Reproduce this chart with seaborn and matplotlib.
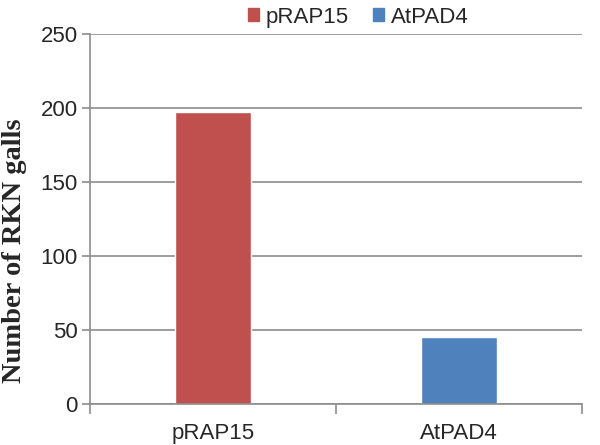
import matplotlib
matplotlib.use("Agg")
import matplotlib.pyplot as plt
import matplotlib.patches as mpatches
from matplotlib.ticker import FixedLocator, MultipleLocator
import seaborn as sns
import pandas as pd

categories = ["pRAP15", "AtPAD4"]
values = [197, 45.5]
colors = ["#C0504D", "#4F81BD"]
ylabel = "Number of RKN galls"

sns.set_style("white")
plt.rcParams["font.family"] = ["Liberation Sans", "DejaVu Sans"]

df = pd.DataFrame({"construct": categories, "galls": values})

fig = plt.figure(figsize=(6.0, 4.45), dpi=100)
ax = fig.add_axes([0.15, 0.0921, 0.82, 0.8326])

sns.barplot(data=df, x="construct", y="galls", hue="construct",
            palette=colors, width=0.31, saturation=1, legend=False, ax=ax)

ax.set_xlim(-0.5, 1.5)
ax.set_ylim(0, 250)
ax.yaxis.set_major_locator(MultipleLocator(50))
ax.grid(axis="y", color="#8c8c8c", linewidth=1.2)
ax.set_axisbelow(True)

for s in ["top", "right"]:
    ax.spines[s].set_visible(False)
for s in ["left", "bottom"]:
    ax.spines[s].set_color("#8c8c8c")
    ax.spines[s].set_linewidth(1.2)

# x ticks: marks at category boundaries, labels at centres
ax.xaxis.set_major_locator(FixedLocator([-0.5, 0.5, 1.5]))
ax.xaxis.set_minor_locator(FixedLocator([0, 1]))
ax.set_xticklabels([])
ax.set_xticklabels(categories, minor=True)
ax.tick_params(axis="x", which="major", direction="out", length=7,
               width=1.2, color="#8c8c8c", bottom=True)
ax.tick_params(axis="x", which="minor", length=0, pad=13.5, labelsize=16)
ax.tick_params(axis="y", direction="out", length=6, width=1.2,
               color="#8c8c8c", left=True, labelsize=16, pad=3)

ax.set_xlabel("")
ax.set_ylabel(ylabel, family=["Liberation Serif", "DejaVu Serif"],
              fontweight="bold", fontsize=20.5)
ax.yaxis.set_label_coords(-0.128, 0.415)

handles = [mpatches.Patch(color=c, label=l) for c, l in zip(colors, categories)]
fig.legend(handles=handles, loc="upper center", bbox_to_anchor=(0.597, 1.03),
           ncol=2, frameon=False, fontsize=16, handlelength=0.5,
           handleheight=0.5, handletextpad=0.3, columnspacing=1.1)

fig.savefig("out.png", dpi=100)
